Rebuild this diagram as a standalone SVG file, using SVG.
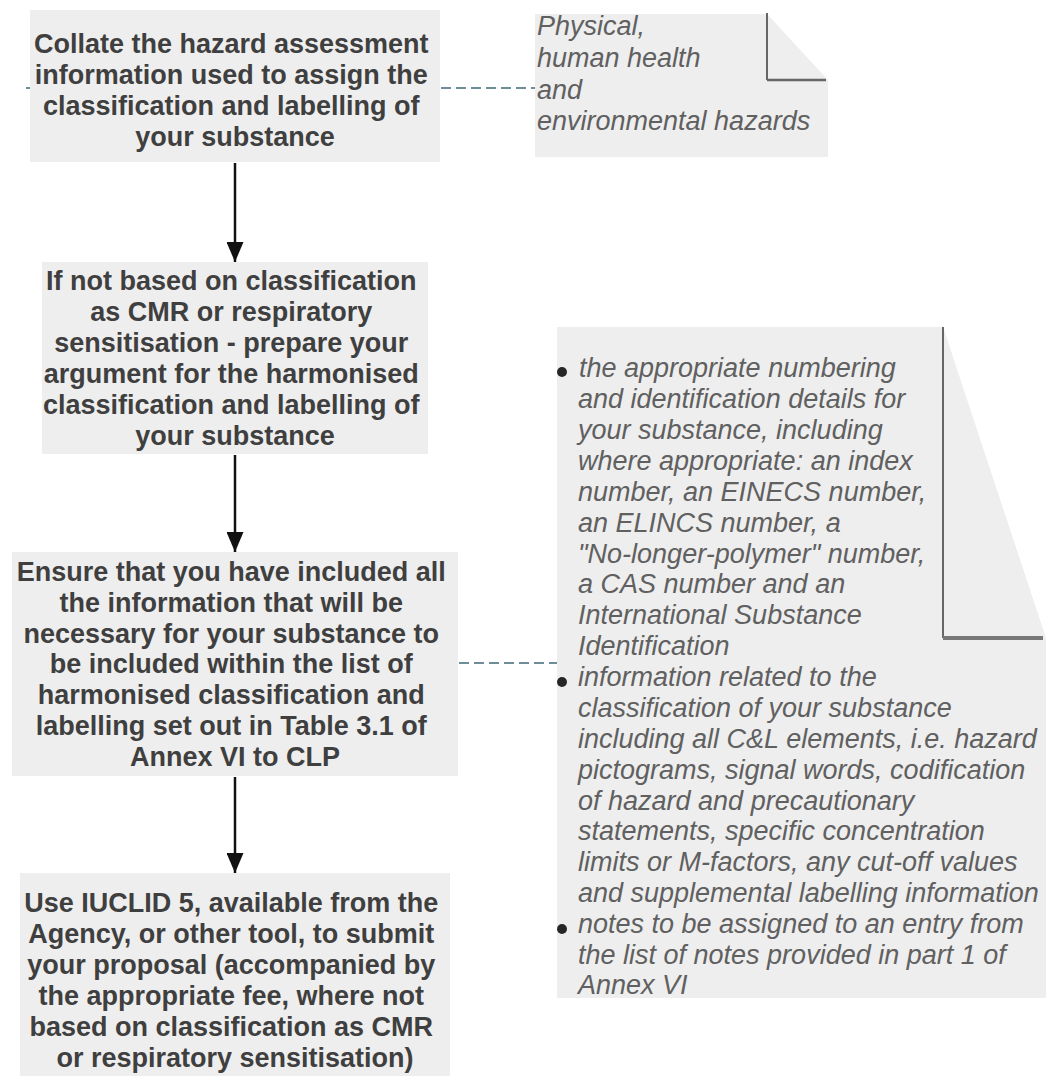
<svg xmlns="http://www.w3.org/2000/svg" width="1055" height="1082" viewBox="0 0 1055 1082">
  <style>
    .box { fill: #eeeeee; }
    .step { font-family: "Liberation Sans", Arial, sans-serif; font-size: 27px; font-weight: bold; fill: #3f3f3f; text-anchor: middle; }
    .note { font-family: "Liberation Sans", Arial, sans-serif; font-size: 27px; font-style: italic; fill: #606060; }
    .flow { stroke: #111111; stroke-width: 2.5; fill: none; }
    .link { stroke: #6d8d98; stroke-width: 2; stroke-dasharray: 10 5; fill: none; }
    .fold { stroke: #666666; fill: none; }
    .dot { fill: #262626; }
  </style>
  <defs>
    <marker id="head" viewBox="0 0 20 17" refX="20" refY="8.5" markerWidth="20" markerHeight="17" markerUnits="userSpaceOnUse" orient="auto">
      <path d="M0,0 L20,8.5 L0,17 Z" fill="#111111"/>
    </marker>
  </defs>
  <rect width="1055" height="1082" fill="#ffffff"/>

  <!-- connectors -->
  <g id="connectors">
    <line class="flow" x1="235" y1="163" x2="235" y2="262" marker-end="url(#head)"/>
    <line class="flow" x1="235" y1="455" x2="235" y2="552" marker-end="url(#head)"/>
    <line class="flow" x1="235" y1="777" x2="235" y2="873" marker-end="url(#head)"/>
    <line class="link" x1="441" y1="88" x2="537" y2="88"/>
    <line class="link" x1="459" y1="663" x2="557" y2="663"/>
    <line class="link" x1="26" y1="88" x2="31" y2="88"/>
  </g>

  <!-- step 1 -->
  <g id="step-collate">
    <rect class="box" x="30" y="10" width="410" height="152"/>
    <text class="step">
      <tspan x="235" y="53">Collate the hazard assessment</tspan>
      <tspan x="235" y="84">information used to assign the</tspan>
      <tspan x="235" y="115">classification and labelling of</tspan>
      <tspan x="235" y="146">your substance</tspan>
    </text>
  </g>

  <!-- step 2 -->
  <g id="step-argument">
    <rect class="box" x="42" y="262" width="386" height="192"/>
    <text class="step">
      <tspan x="235" y="290">If not based on classification</tspan>
      <tspan x="235" y="321">as CMR or respiratory</tspan>
      <tspan x="235" y="352">sensitisation - prepare your</tspan>
      <tspan x="235" y="383">argument for the harmonised</tspan>
      <tspan x="235" y="414">classification and labelling of</tspan>
      <tspan x="235" y="445">your substance</tspan>
    </text>
  </g>

  <!-- step 3 -->
  <g id="step-ensure">
    <rect class="box" x="12" y="552" width="446" height="224"/>
    <text class="step">
      <tspan x="235" y="581">Ensure that you have included all</tspan>
      <tspan x="235" y="612">the information that will be</tspan>
      <tspan x="235" y="643">necessary for your substance to</tspan>
      <tspan x="235" y="673">be included within the list of</tspan>
      <tspan x="235" y="704">harmonised classification and</tspan>
      <tspan x="235" y="735">labelling set out in Table 3.1 of</tspan>
      <tspan x="235" y="766">Annex VI to CLP</tspan>
    </text>
  </g>

  <!-- step 4 -->
  <g id="step-submit">
    <rect class="box" x="20" y="873" width="430" height="203"/>
    <text class="step">
      <tspan x="235" y="912">Use IUCLID 5, available from the</tspan>
      <tspan x="235" y="943">Agency, or other tool, to submit</tspan>
      <tspan x="235" y="974">your proposal (accompanied by</tspan>
      <tspan x="235" y="1005">the appropriate fee, where not</tspan>
      <tspan x="235" y="1036">based on classification as CMR</tspan>
      <tspan x="235" y="1067">or respiratory sensitisation)</tspan>
    </text>
  </g>

  <!-- note: hazard types -->
  <g id="note-hazards">
    <polygon class="box" points="535,14 767,14 828,80 828,157 535,157"/>
    <polygon class="box" points="767,14 767,80 826,80"/>
    <line class="fold" x1="767" y1="13" x2="767" y2="80" stroke-width="2"/>
    <line class="fold" x1="767" y1="80" x2="826" y2="80" stroke-width="2.5"/>
    <text class="note">
      <tspan x="537" y="35">Physical,</tspan>
      <tspan x="537" y="67">human health</tspan>
      <tspan x="537" y="99">and</tspan>
      <tspan x="537" y="130">environmental hazards</tspan>
    </text>
  </g>

  <!-- note: required content -->
  <g id="note-content">
    <polygon class="box" points="557,327 943,327 1046,638 1046,998 557,998"/>
    <polygon class="box" points="943,327 943,638 1043,638"/>
    <line class="fold" x1="943" y1="327" x2="943" y2="638" stroke-width="2"/>
    <line x1="943" y1="638" x2="1043" y2="638" stroke="#777777" stroke-width="4"/>
    <circle class="dot" cx="562" cy="372" r="5"/>
    <circle class="dot" cx="562" cy="682" r="5"/>
    <circle class="dot" cx="562" cy="929" r="5"/>
    <text class="note">
      <tspan x="579" y="377">the appropriate numbering</tspan>
      <tspan x="578" y="408">and identification details for</tspan>
      <tspan x="578" y="439">your substance, including</tspan>
      <tspan x="578" y="470">where appropriate: an index</tspan>
      <tspan x="578" y="501">number, an EINECS number,</tspan>
      <tspan x="578" y="532">an ELINCS number, a</tspan>
      <tspan x="578" y="563">"No-longer-polymer" number,</tspan>
      <tspan x="578" y="593">a CAS number and an</tspan>
      <tspan x="578" y="624">International Substance</tspan>
      <tspan x="578" y="655">Identification</tspan>
      <tspan x="578" y="686">information related to the</tspan>
      <tspan x="578" y="717">classification of your substance</tspan>
      <tspan x="578" y="748">including all C&amp;L elements, i.e. hazard</tspan>
      <tspan x="578" y="779">pictograms, signal words, codification</tspan>
      <tspan x="578" y="810">of hazard and precautionary</tspan>
      <tspan x="578" y="840">statements, specific concentration</tspan>
      <tspan x="578" y="871">limits or M-factors, any cut-off values</tspan>
      <tspan x="578" y="902">and supplemental labelling information</tspan>
      <tspan x="578" y="933">notes to be assigned to an entry from</tspan>
      <tspan x="578" y="964">the list of notes provided in part 1 of</tspan>
      <tspan x="578" y="994">Annex VI</tspan>
    </text>
  </g>
</svg>
